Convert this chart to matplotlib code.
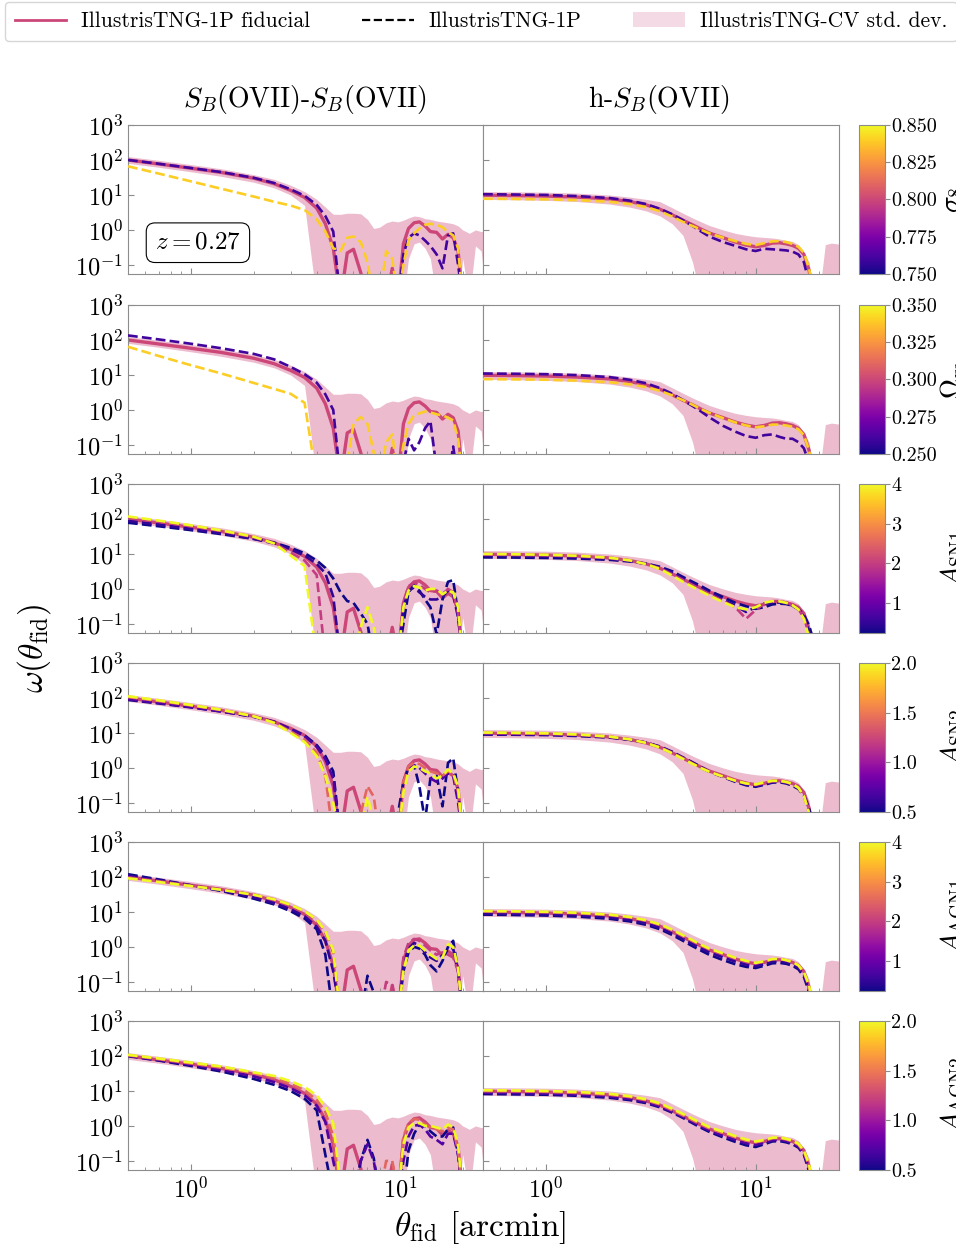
import numpy as np
import matplotlib
matplotlib.use("Agg")
import matplotlib.pyplot as plt
from matplotlib.colors import Normalize
from matplotlib.cm import ScalarMappable
from matplotlib.lines import Line2D
from matplotlib.patches import Patch
import matplotlib.ticker as mticker

plt.rcParams['font.family'] = 'serif'
plt.rcParams['font.serif'] = ['cmr10', 'DejaVu Serif']
plt.rcParams['mathtext.fontset'] = 'cm'
plt.rcParams['axes.formatter.use_mathtext'] = True

# ---------------- data ----------------
theta_left = [0.5, 0.7, 1.0, 1.4, 2.0, 2.5, 3.0, 3.5, 4.0, 4.4, 4.8,
              5.2, 5.6, 6.0, 6.5, 7.0, 7.5, 8.0, 8.6, 9.2, 9.8,
              10.4, 11.0, 11.7, 12.4, 13.2, 14.0, 15.0, 16.0, 17.0, 18.0, 19.0,
              20.0, 21.5, 23.0, 24.5, 26.0]
theta_right = [0.5, 0.7, 1.0, 1.4, 2.0, 2.5, 3.0, 3.5, 4.0, 4.5, 5.0, 5.5, 6.0,
               7.0, 8.0, 9.0, 10.0, 11.0, 12.0, 13.0, 14.0, 15.0, 16.0, 17.0, 18.0, 19.0,
               20.0, 21.5, 23.0, 24.5, 26.0]

fid_left = [100, 77, 58, 44, 30, 21, 13.5, 8.5, 4.2, 1.5, 0.3,
            0.01, 0.22, 0.28, 0.06, 0.01, 0.01, 0.01, 0.01, 0.08, 0.01,
            0.4, 1.1, 1.6, 1.7, 1.3, 0.9, 0.85, 0.55, 0.75, 0.6, 0.25,
            0.01, 0.01, 0.01, 0.01, 0.01]
cv_hi_left = [125, 98, 74, 56, 38, 28, 19, 12.5, 7.5, 4.5, 2.8,
              2.8, 3.0, 3.0, 2.9, 2.0, 1.1, 1.2, 1.6, 1.8, 1.7,
              1.9, 2.2, 2.5, 2.4, 2.1, 2.0, 1.8, 1.7, 1.6, 1.5, 1.3,
              1.0, 0.8, 1.0, 0.9, 0.9]
cv_lo_left = [80, 62, 46, 34, 23, 16, 10, 5.0, 0.01, 0.01, 0.01,
              0.01, 0.01, 0.01, 0.01, 0.01, 0.01, 0.01, 0.01, 0.01, 0.01,
              0.01, 0.15, 0.4, 0.45, 0.3, 0.15, 0.01, 0.01, 0.01, 0.01, 0.01,
              0.15, 0.01, 0.35, 0.25, 0.01]

fid_right = [9.8, 9.6, 9.3, 8.7, 7.7, 6.5, 5.2, 3.9, 2.7, 1.9, 1.4, 1.05, 0.82,
             0.6, 0.45, 0.37, 0.33, 0.36, 0.42, 0.43, 0.4, 0.36, 0.3, 0.2, 0.07, 0.01,
             0.01, 0.01, 0.01, 0.01, 0.01]
cv_hi_right = [12.5, 12.3, 12.0, 11.3, 10.0, 8.7, 7.5, 6.4, 4.3, 3.0, 2.2, 1.7, 1.35,
               1.0, 0.8, 0.7, 0.64, 0.61, 0.59, 0.55, 0.5, 0.47, 0.38, 0.22, 0.12, 0.01,
               0.01, 0.38, 0.42, 0.4, 0.38]
cv_lo_right = [7.5, 7.3, 7.0, 6.5, 5.5, 4.5, 3.5, 2.5, 1.5, 0.7, 0.12, 0.01, 0.01,
               0.01, 0.01, 0.01, 0.01, 0.01, 0.01, 0.01, 0.01, 0.01, 0.01, 0.01, 0.01, 0.01,
               0.01, 0.01, 0.01, 0.01, 0.01]

# Row 1: sigma_8
s8_values = [0.76, 0.84]
s8_left = [
    [100, 78, 59, 45, 31, 22, 14.5, 9.5, 5.2, 2.5, 0.9,
     0.01, 0.01, 0.01, 0.01, 0.01, 0.01, 0.01, 0.01, 0.01, 0.01,
     0.2, 0.6, 0.8, 0.7, 0.5, 0.35, 0.2, 0.08, 0.7, 0.8, 0.1,
     0.01, 0.01, 0.01, 0.01, 0.01],
    [66, 41, 24.5, 15, 9.0, 6.4, 5.0, 3.7, 2.0, 0.9, 0.3,
     0.25, 0.6, 0.65, 0.45, 0.12, 0.01, 0.01, 0.25, 0.15, 0.01,
     0.1, 0.5, 0.8, 1.1, 1.4, 1.5, 1.4, 1.2, 0.85, 0.7, 0.3,
     0.01, 0.01, 0.01, 0.01, 0.01]]
s8_right = [
    [10.5, 10.3, 10.0, 9.3, 8.2, 6.9, 5.5, 4.0, 2.8, 1.9, 1.3, 0.9, 0.65,
     0.45, 0.35, 0.28, 0.25, 0.29, 0.28, 0.27, 0.26, 0.24, 0.2, 0.12, 0.03, 0.01,
     0.01, 0.01, 0.01, 0.01, 0.01],
    [7.8, 7.7, 7.5, 7.1, 6.4, 5.5, 4.5, 3.4, 2.4, 1.7, 1.3, 1.0, 0.8,
     0.6, 0.48, 0.4, 0.37, 0.42, 0.47, 0.48, 0.45, 0.4, 0.33, 0.22, 0.08, 0.01,
     0.01, 0.01, 0.01, 0.01, 0.01]]

# Row 2: Omega_m
om_values = [0.26, 0.34]
om_left = [
    [135, 104, 78, 58, 40, 28, 17, 10.5, 6.0, 2.8, 1.0,
     0.01, 0.01, 0.01, 0.01, 0.01, 0.01, 0.01, 0.01, 0.01, 0.01,
     0.03, 0.15, 0.07, 0.12, 0.3, 0.48, 0.02, 0.01, 0.01, 0.09, 0.01,
     0.01, 0.01, 0.01, 0.01, 0.01],
    [64, 35, 19, 11, 5.9, 4.0, 2.9, 1.6, 0.01, 0.01, 0.01,
     0.01, 0.03, 0.4, 0.63, 0.4, 0.06, 0.01, 0.12, 0.2, 0.01,
     0.1, 0.4, 0.7, 0.8, 0.9, 0.85, 0.75, 0.7, 0.6, 0.5, 0.15,
     0.01, 0.01, 0.01, 0.01, 0.01]]
om_right = [
    [11.0, 10.8, 10.5, 9.9, 8.7, 7.3, 5.8, 4.2, 2.9, 1.9, 1.3, 0.9, 0.62,
     0.35, 0.24, 0.18, 0.16, 0.19, 0.2, 0.17, 0.15, 0.15, 0.12, 0.08, 0.03, 0.01,
     0.01, 0.01, 0.01, 0.01, 0.01],
    [7.6, 7.5, 7.3, 6.9, 6.2, 5.4, 4.5, 3.5, 2.6, 1.9, 1.4, 1.05, 0.83,
     0.58, 0.44, 0.36, 0.32, 0.34, 0.38, 0.38, 0.36, 0.33, 0.28, 0.19, 0.07, 0.01,
     0.01, 0.01, 0.01, 0.01, 0.01]]

# Row 3: A_SN1
sn1_values = [0.25, 0.5, 2.0, 4.0]
sn1_left = [
    [78, 62, 48, 37, 27, 21, 15, 10.5, 6.5, 4.0, 2.0,
     0.8, 0.45, 0.4, 0.2, 0.1, 0.01, 0.01, 0.01, 0.01, 0.01,
     0.1, 0.8, 1.3, 0.9, 0.5, 0.3, 0.05, 0.5, 1.6, 1.8, 0.2,
     0.01, 0.01, 0.01, 0.01, 0.01],
    [88, 69, 52, 39, 27, 20, 13.5, 9.0, 5.2, 2.8, 0.6,
     0.01, 0.01, 0.01, 0.01, 0.01, 0.01, 0.01, 0.01, 0.01, 0.01,
     0.3, 0.9, 1.1, 0.8, 0.6, 0.5, 0.5, 0.6, 0.9, 0.7, 0.15,
     0.01, 0.01, 0.01, 0.01, 0.01],
    [108, 84, 62, 45, 30, 20, 11, 6.5, 2.5, 0.01, 0.01,
     0.01, 0.01, 0.01, 0.01, 0.01, 0.01, 0.01, 0.01, 0.01, 0.01,
     0.4, 1.2, 1.5, 1.3, 1.0, 0.8, 0.9, 0.7, 1.0, 0.8, 0.2,
     0.01, 0.01, 0.01, 0.01, 0.01],
    [118, 90, 66, 47, 31, 20, 9.0, 4.5, 0.01, 0.01, 0.01,
     0.01, 0.01, 0.01, 0.08, 0.3, 0.08, 0.01, 0.01, 0.01, 0.01,
     0.3, 0.9, 1.2, 1.1, 0.9, 1.0, 1.0, 0.7, 0.9, 0.8, 0.3,
     0.01, 0.01, 0.01, 0.01, 0.01]]
sn1_right = [
    [8.0, 7.9, 7.7, 7.4, 6.8, 6.1, 5.3, 4.3, 3.2, 2.2, 1.6, 1.2, 0.9,
     0.58, 0.4, 0.32, 0.27, 0.3, 0.36, 0.38, 0.37, 0.33, 0.27, 0.18, 0.09, 0.03,
     0.01, 0.01, 0.01, 0.01, 0.01],
    [8.8, 8.7, 8.4, 8.0, 7.2, 6.3, 5.2, 4.0, 2.9, 2.0, 1.45, 1.05, 0.8,
     0.5, 0.33, 0.22, 0.3, 0.38, 0.4, 0.41, 0.38, 0.33, 0.26, 0.16, 0.06, 0.01,
     0.01, 0.01, 0.01, 0.01, 0.01],
    [9.6, 9.4, 9.1, 8.6, 7.6, 6.5, 5.2, 3.9, 2.6, 1.8, 1.3, 0.95, 0.72,
     0.45, 0.3, 0.14, 0.25, 0.38, 0.45, 0.45, 0.41, 0.35, 0.27, 0.15, 0.05, 0.01,
     0.01, 0.01, 0.01, 0.01, 0.01],
    [10.0, 9.8, 9.5, 8.9, 7.8, 6.6, 5.1, 3.7, 2.4, 1.6, 1.15, 0.85, 0.65,
     0.42, 0.3, 0.26, 0.3, 0.4, 0.45, 0.44, 0.4, 0.34, 0.26, 0.14, 0.04, 0.01,
     0.01, 0.01, 0.01, 0.01, 0.01]]

# Row 4: A_SN2
sn2_values = [0.5, 0.71, 1.41, 2.0]
sn2_left = [
    [88, 70, 54, 41, 29, 21, 13, 8.5, 4.5, 2.2, 0.8,
     0.01, 0.01, 0.01, 0.01, 0.01, 0.01, 0.01, 0.01, 0.01, 0.05,
     0.4, 1.0, 1.2, 0.3, 0.03, 0.5, 0.6, 0.08, 1.4, 1.9, 0.2,
     0.01, 0.01, 0.01, 0.01, 0.01],
    [92, 72, 55, 41, 29, 21, 12.5, 8.0, 4.0, 1.8, 0.5,
     0.01, 0.01, 0.01, 0.01, 0.01, 0.01, 0.01, 0.01, 0.01, 0.01,
     0.3, 0.9, 1.2, 1.0, 0.7, 0.5, 0.4, 0.5, 0.7, 0.6, 0.1,
     0.01, 0.01, 0.01, 0.01, 0.01],
    [106, 82, 61, 45, 30, 20, 11, 6.5, 2.8, 0.6, 0.01,
     0.01, 0.01, 0.01, 0.05, 0.3, 0.15, 0.01, 0.01, 0.01, 0.01,
     0.4, 1.1, 1.4, 1.3, 1.0, 0.8, 0.7, 0.6, 0.8, 0.7, 0.2,
     0.01, 0.01, 0.01, 0.01, 0.01],
    [112, 86, 63, 46, 30, 19.5, 10, 5.5, 2.2, 0.6, 0.1,
     0.01, 0.01, 0.01, 0.02, 0.15, 0.03, 0.01, 0.01, 0.01, 0.01,
     0.2, 0.8, 1.1, 1.0, 0.8, 0.7, 0.5, 0.6, 0.9, 0.7, 0.3,
     0.01, 0.01, 0.01, 0.01, 0.01]]
sn2_right = [
    [9.0, 8.9, 8.7, 8.2, 7.4, 6.4, 5.3, 4.1, 2.9, 2.0, 1.45, 1.05, 0.8,
     0.55, 0.4, 0.32, 0.29, 0.33, 0.38, 0.39, 0.36, 0.31, 0.25, 0.16, 0.07, 0.02,
     0.01, 0.01, 0.01, 0.01, 0.01],
    [9.4, 9.2, 9.0, 8.5, 7.6, 6.5, 5.3, 4.0, 2.8, 1.95, 1.4, 1.0, 0.78,
     0.55, 0.42, 0.34, 0.31, 0.35, 0.4, 0.41, 0.38, 0.33, 0.27, 0.17, 0.06, 0.01,
     0.01, 0.01, 0.01, 0.01, 0.01],
    [10.0, 9.8, 9.5, 8.9, 7.8, 6.6, 5.2, 3.9, 2.7, 1.9, 1.35, 1.0, 0.8,
     0.57, 0.44, 0.36, 0.33, 0.37, 0.42, 0.42, 0.39, 0.34, 0.27, 0.16, 0.05, 0.01,
     0.01, 0.01, 0.01, 0.01, 0.01],
    [10.3, 10.1, 9.8, 9.1, 7.9, 6.6, 5.2, 3.8, 2.6, 1.8, 1.3, 0.98, 0.78,
     0.56, 0.43, 0.36, 0.34, 0.39, 0.43, 0.43, 0.4, 0.35, 0.27, 0.16, 0.05, 0.01,
     0.01, 0.01, 0.01, 0.01, 0.01]]

# Row 5: A_AGN1
agn1_values = [0.25, 0.5, 2.0, 4.0]
agn1_left = [
    [120, 85, 58, 40, 24, 16.5, 10.5, 6.5, 3.2, 0.6, 0.01,
     0.01, 0.01, 0.01, 0.01, 0.15, 0.05, 0.01, 0.01, 0.01, 0.01,
     0.2, 0.7, 1.0, 0.9, 0.6, 0.3, 0.2, 0.4, 1.0, 1.5, 0.2,
     0.01, 0.01, 0.01, 0.01, 0.01],
    [110, 80, 57, 41, 26, 18, 12, 7.5, 3.8, 1.5, 0.2,
     0.01, 0.01, 0.01, 0.01, 0.01, 0.01, 0.01, 0.01, 0.01, 0.01,
     0.3, 0.9, 1.3, 1.1, 0.7, 0.5, 0.4, 0.6, 0.8, 0.9, 0.2,
     0.01, 0.01, 0.01, 0.01, 0.01],
    [98, 76, 57, 44, 31, 23, 15.5, 10, 5.5, 2.5, 0.7,
     0.01, 0.01, 0.01, 0.01, 0.01, 0.01, 0.01, 0.1, 0.08, 0.01,
     0.5, 1.3, 1.7, 1.5, 1.1, 0.8, 0.6, 0.7, 0.6, 0.5, 0.2,
     0.01, 0.01, 0.01, 0.01, 0.01],
    [92, 72, 55, 43, 31, 23, 16, 10.5, 6.0, 2.8, 0.8,
     0.01, 0.01, 0.01, 0.01, 0.01, 0.01, 0.01, 0.01, 0.01, 0.01,
     0.2, 0.8, 1.1, 1.1, 0.8, 0.6, 0.45, 0.5, 1.2, 1.0, 0.25,
     0.01, 0.01, 0.01, 0.01, 0.01]]
agn1_right = [
    [8.4, 8.2, 7.9, 7.4, 6.4, 5.4, 4.3, 3.2, 2.2, 1.5, 1.05, 0.78, 0.6,
     0.42, 0.32, 0.27, 0.25, 0.29, 0.34, 0.35, 0.33, 0.29, 0.23, 0.14, 0.05, 0.01,
     0.01, 0.01, 0.01, 0.01, 0.01],
    [9.0, 8.8, 8.5, 8.0, 7.0, 5.9, 4.7, 3.5, 2.4, 1.7, 1.2, 0.9, 0.7,
     0.5, 0.38, 0.31, 0.28, 0.32, 0.38, 0.39, 0.36, 0.32, 0.25, 0.16, 0.06, 0.01,
     0.01, 0.01, 0.01, 0.01, 0.01],
    [10.2, 10.0, 9.7, 9.1, 8.1, 6.9, 5.6, 4.2, 2.9, 2.0, 1.45, 1.08, 0.85,
     0.62, 0.47, 0.38, 0.34, 0.38, 0.44, 0.45, 0.41, 0.36, 0.29, 0.18, 0.07, 0.01,
     0.01, 0.01, 0.01, 0.01, 0.01],
    [10.6, 10.4, 10.1, 9.5, 8.4, 7.2, 5.8, 4.4, 3.1, 2.15, 1.55, 1.15, 0.9,
     0.65, 0.49, 0.4, 0.35, 0.39, 0.45, 0.46, 0.42, 0.37, 0.3, 0.19, 0.08, 0.01,
     0.01, 0.01, 0.01, 0.01, 0.01]]

# Row 6: A_AGN2
agn2_values = [0.5, 0.71, 1.41, 2.0]
agn2_left = [
    [100, 74, 52, 36, 22, 15, 10, 6.0, 2.8, 0.15, 0.01,
     0.01, 0.01, 0.01, 0.1, 0.4, 0.12, 0.01, 0.01, 0.01, 0.01,
     0.01, 0.2, 0.6, 1.1, 1.0, 0.7, 0.5, 0.5, 0.8, 0.9, 0.15,
     0.01, 0.01, 0.01, 0.01, 0.01],
    [102, 77, 56, 40, 26, 18, 12, 7.5, 3.8, 1.3, 0.1,
     0.01, 0.01, 0.01, 0.1, 0.3, 0.1, 0.01, 0.01, 0.01, 0.01,
     0.1, 0.5, 1.0, 1.1, 0.8, 0.5, 0.4, 0.3, 0.6, 0.6, 0.15,
     0.01, 0.01, 0.01, 0.01, 0.01],
    [105, 81, 61, 46, 32, 24, 16, 10.5, 5.5, 2.5, 0.5,
     0.01, 0.01, 0.01, 0.01, 0.01, 0.01, 0.01, 0.1, 0.1, 0.01,
     0.5, 1.2, 1.6, 1.5, 1.1, 0.9, 0.8, 0.7, 0.9, 0.8, 0.2,
     0.01, 0.01, 0.01, 0.01, 0.01],
    [108, 85, 65, 50, 34, 27, 19, 13, 7.5, 3.5, 1.2,
     0.02, 0.01, 0.01, 0.01, 0.01, 0.01, 0.01, 0.01, 0.01, 0.01,
     0.3, 0.9, 1.2, 1.2, 1.0, 1.0, 0.9, 0.8, 1.1, 0.9, 0.3,
     0.01, 0.01, 0.01, 0.01, 0.01]]
agn2_right = [
    [8.2, 8.0, 7.8, 7.3, 6.4, 5.5, 4.5, 3.4, 2.4, 1.7, 1.2, 0.88, 0.68,
     0.47, 0.35, 0.28, 0.25, 0.3, 0.36, 0.37, 0.34, 0.3, 0.24, 0.15, 0.05, 0.01,
     0.01, 0.01, 0.01, 0.01, 0.01],
    [8.9, 8.7, 8.4, 7.9, 6.9, 5.9, 4.8, 3.6, 2.5, 1.8, 1.3, 0.95, 0.74,
     0.52, 0.4, 0.32, 0.29, 0.33, 0.39, 0.4, 0.37, 0.32, 0.26, 0.16, 0.06, 0.01,
     0.01, 0.01, 0.01, 0.01, 0.01],
    [9.9, 9.7, 9.4, 8.8, 7.8, 6.7, 5.4, 4.1, 2.8, 2.0, 1.45, 1.08, 0.85,
     0.62, 0.47, 0.38, 0.34, 0.38, 0.44, 0.45, 0.41, 0.36, 0.29, 0.18, 0.07, 0.01,
     0.01, 0.01, 0.01, 0.01, 0.01],
    [10.5, 10.3, 10.0, 9.4, 8.3, 7.1, 5.8, 4.4, 3.1, 2.2, 1.6, 1.2, 0.93,
     0.68, 0.51, 0.41, 0.36, 0.4, 0.46, 0.47, 0.43, 0.38, 0.31, 0.2, 0.08, 0.01,
     0.01, 0.01, 0.01, 0.01, 0.01]]

param_labels = [r'$\sigma_8$', r'$\Omega_{\rm m}$', r'$A_{\rm SN1}$',
                r'$A_{\rm SN2}$', r'$A_{\rm AGN1}$', r'$A_{\rm AGN2}$']
cbar_ranges = [(0.75, 0.85), (0.25, 0.35), (0.25, 4.0), (0.5, 2.0), (0.25, 4.0), (0.5, 2.0)]
cbar_ticks = [[0.75, 0.775, 0.80, 0.825, 0.85], [0.25, 0.275, 0.30, 0.325, 0.35],
              [1, 2, 3, 4], [0.5, 1.0, 1.5, 2.0], [1, 2, 3, 4], [0.5, 1.0, 1.5, 2.0]]
cbar_fmt = ['%.3f', '%.3f', '%d', '%.1f', '%d', '%.1f']
col_titles = [r'$S_B$(OVII)-$S_B$(OVII)', r'h-$S_B$(OVII)']

rows_values = [s8_values, om_values, sn1_values, sn2_values, agn1_values, agn2_values]
rows_left = [s8_left, om_left, sn1_left, sn2_left, agn1_left, agn2_left]
rows_right = [s8_right, om_right, sn1_right, sn2_right, agn1_right, agn2_right]

# ---------------- figure ----------------
W, H = 956, 1253
fig = plt.figure(figsize=(W / 100, H / 100), dpi=100)


def rect(x0, top, w, h):
    return [x0 / W, 1 - (top + h) / H, w / W, h / H]


cmap = plt.get_cmap('plasma')
FID_C = cmap(0.5)
SPINE_C = '#8c8c8c'
row_tops = [125, 305, 484, 663, 842, 1021]
PH = 149

for r in range(6):
    top = row_tops[r]
    axL = fig.add_axes(rect(128, top, 355, PH))
    axR = fig.add_axes(rect(483, top, 356, PH), sharey=axL)
    norm = Normalize(*cbar_ranges[r])
    for ax, th, fid, lo, hi, curves in [
            (axL, theta_left, fid_left, cv_lo_left, cv_hi_left, rows_left[r]),
            (axR, theta_right, fid_right, cv_lo_right, cv_hi_right, rows_right[r])]:
        ax.set_xscale('log')
        ax.set_yscale('log')
        ax.fill_between(th, lo, hi, color=FID_C, alpha=0.36, lw=0, zorder=1)
        ax.plot(th, fid, color=FID_C, lw=2.4, zorder=2)
        for val, cv in zip(rows_values[r], curves):
            ax.plot(th, cv, color=cmap(norm(val)), lw=1.9, ls='--', zorder=3)
        ax.set_xlim(0.5, 25)
        ax.set_ylim(0.055, 1000)
        for s in ax.spines.values():
            s.set_color(SPINE_C)
        ax.tick_params(which='both', direction='in', colors=SPINE_C,
                       labelcolor='black', labelsize=17.5)
        ax.tick_params(which='major', length=4)
        ax.tick_params(which='minor', length=2.5)
        ax.yaxis.set_minor_locator(mticker.NullLocator())
        ax.set_yticks([0.1, 1, 10, 100, 1000])
        if r < 5:
            ax.tick_params(labelbottom=False)
        else:
            ax.tick_params(axis='x', pad=5)
    axR.tick_params(labelleft=False)
    if r == 0:
        axL.text(0.197, 0.21, r'$z = 0.27$', transform=axL.transAxes, fontsize=18,
                 ha='center', va='center',
                 bbox=dict(boxstyle='round,pad=0.35', fc='white', ec='black', lw=0.8))

    cax = fig.add_axes(rect(859, top, 26, PH))
    cb = fig.colorbar(ScalarMappable(norm=norm, cmap=cmap), cax=cax)
    cb.set_ticks(cbar_ticks[r])
    cb.ax.yaxis.set_major_formatter(mticker.FormatStrFormatter(cbar_fmt[r]))
    cb.outline.set_edgecolor(SPINE_C)
    cb.ax.tick_params(labelsize=14.5, length=3.5, colors=SPINE_C, labelcolor='black', pad=1)
    # parameter name, partly beyond the right edge as in the reference
    fig.text(953 / W, 1 - (top + PH / 2) / H, param_labels[r], rotation=90,
             ha='center', va='center', fontsize=20)

fig.text(305 / W, 1 - 100 / H, col_titles[0], ha='center', va='center', fontsize=20)
fig.text(659 / W, 1 - 100 / H, col_titles[1], ha='center', va='center', fontsize=20)
fig.text(34 / W, 1 - 648 / H, r'$\omega(\theta_{\rm fid})$', rotation=90,
         ha='center', va='center', fontsize=24)
fig.text(480 / W, 1 - 1228 / H, r'$\theta_{\rm fid}$ [arcmin]', ha='center',
         va='center', fontsize=24)

handles = [Line2D([], [], color=FID_C, lw=2),
           Line2D([], [], color='black', lw=1.6, ls='--'),
           Patch(facecolor=FID_C, alpha=0.2, lw=0)]
labels = ['IllustrisTNG-1P fiducial', 'IllustrisTNG-1P', 'IllustrisTNG-CV std. dev.']
fig.legend(handles, labels, loc='upper left', bbox_to_anchor=(5 / W, 1 - 2 / H),
           ncol=3, fontsize=15.5, handlelength=2.4, columnspacing=2.4,
           handletextpad=0.7, borderaxespad=0, borderpad=0.45, frameon=True)

fig.savefig('out.png', dpi=100)
